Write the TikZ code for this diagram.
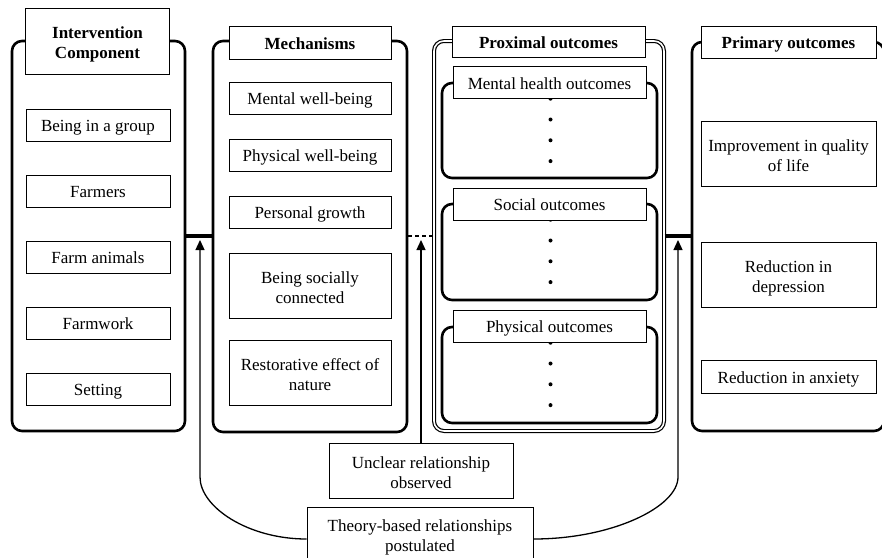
\documentclass[tikz,border=0pt]{standalone}
\usepackage{fontspec}
\setmainfont{Liberation Serif}
\usetikzlibrary{arrows.meta}
% fixed height above the first line of a two-line box
\newcommand\firstline{\rule{0pt}{15.5pt}}
\begin{document}
\begin{tikzpicture}[x=1pt,y=-1pt,
  font=\fontsize{17}{20}\selectfont,
  panel/.style={draw, line width=2.6pt, rounded corners=10pt, inner sep=0pt},
  outerpanel/.style={draw, double, double distance=1.6pt, line width=1.2pt, rounded corners=10pt, inner sep=0pt},
  subpanel/.style={draw, line width=2.6pt, rounded corners=10pt, inner sep=0pt},
  boxbase/.style={draw, fill=white, line width=0.9pt, inner sep=0pt, align=center},
  box/.style={boxbase, text height=15pt, text depth=2pt},
  twoline/.style={boxbase},
  titlebox/.style={box, font=\fontsize{17}{20}\selectfont\bfseries},
  joinbar/.style={line width=3.6pt},
  dashbar/.style={line width=1.4pt, dash pattern=on 4pt off 3pt},
  arr/.style={line width=1.3pt, -{Triangle[length=10pt,width=9pt]}},
  dotmark/.style={fill=black}
]
\fill[white] (0,0) rectangle (882,557);
\useasboundingbox (0,0) rectangle (882,557);

% outer panels
\node[panel, minimum width=173, minimum height=390] (p1) at (98.5,236) {};
\node[panel, minimum width=194, minimum height=391] (p2) at (310,236.5) {};
\node[outerpanel, minimum width=230, minimum height=390] (p3) at (549,236) {};
\node[panel, minimum width=192, minimum height=389] (p4) at (788,236.5) {};

% grouped outcome panels inside the proximal column
\node[subpanel, minimum width=215, minimum height=95] (sp1) at (549.5,130.5) {};
\node[subpanel, minimum width=215, minimum height=96] (sp2) at (549.5,252) {};
\node[subpanel, minimum width=215, minimum height=96] (sp3) at (549.5,375) {};
\foreach \sp in {sp1,sp2,sp3}
  \foreach \d in {0,1,2,3}
    \fill[dotmark] ([xshift=1pt,yshift={-(17+20.8*\d)*1pt}]\sp.north) circle (2pt);

% column headings
\node[twoline, font=\fontsize{17}{20}\selectfont\bfseries, minimum width=144, minimum height=66] (t1) at (97.5,41) {\firstline Intervention\\\smash{Component}};
\node[titlebox, minimum width=162, minimum height=33] (t2) at (310,42.5) {Mechanisms};
\node[titlebox, minimum width=193, minimum height=31] (t3) at (548.5,42) {Proximal outcomes};
\node[titlebox, minimum width=175, minimum height=32] (t4) at (788.5,42) {Primary outcomes};

% outcome group headings
\node[box, minimum width=193, minimum height=32] (s1) at (549.5,82.5) {Mental health outcomes};
\node[box, minimum width=193, minimum height=32] (s2) at (549.5,204) {Social outcomes};
\node[box, minimum width=193, minimum height=32] (s3) at (549.5,326) {Physical outcomes};

% intervention components
\node[box, minimum width=144, minimum height=32] (c1) at (98,125) {Being in a group};
\node[box, minimum width=144, minimum height=32] (c2) at (98,191) {Farmers};
\node[box, minimum width=144, minimum height=32] (c3) at (98,257) {Farm animals};
\node[box, minimum width=144, minimum height=32] (c4) at (98,323) {Farmwork};
\node[box, minimum width=144, minimum height=32] (c5) at (98,389) {Setting};

% mechanisms
\node[box, minimum width=162, minimum height=32] (m1) at (310,98) {Mental well-being};
\node[box, minimum width=162, minimum height=32] (m2) at (310,155) {Physical well-being};
\node[box, minimum width=162, minimum height=32] (m3) at (310,212) {Personal growth};
\node[twoline, minimum width=162, minimum height=65] (m4) at (310,285.5) {\firstline Being socially\\\smash{connected}};
\node[twoline, minimum width=162, minimum height=65] (m5) at (310,372.5) {\firstline Restorative effect of\\\smash{nature}};

% primary outcomes
\node[twoline, minimum width=175, minimum height=65] (o1) at (788.5,153.5) {\firstline Improvement in quality\\\smash{of life}};
\node[twoline, minimum width=175, minimum height=65] (o2) at (788.5,274.5) {\firstline Reduction in\\\smash{depression}};
\node[box, minimum width=175, minimum height=33] (o3) at (788.5,376.5) {Reduction in anxiety};

% relationship legend
\node[twoline, minimum width=184, minimum height=55] (unclear) at (421,470.5) {\firstline Unclear relationship\\\smash{observed}};
\node[twoline, minimum width=226, minimum height=54] (theory) at (420,534) {\firstline Theory-based relationships\\\smash{postulated}};

% links between columns
\coordinate (j1) at (200,236);
\coordinate (j2) at (421,236);
\coordinate (j3) at (678,236);
\draw[joinbar] (p1.east |- j1) -- (p2.west |- j1);
\draw[dashbar] (p2.east |- j2) -- (p3.west |- j2);
\draw[joinbar] (p3.east |- j3) -- (p4.west |- j3);

% arrows from the legend boxes
\draw[arr] (unclear.north) -- ([yshift=-4pt]j2);
\draw[arr] ([yshift=-5pt]theory.west) .. controls (248,539) and (200,507) .. (200,477) -- ([yshift=-4pt]j1);
\draw[arr] ([yshift=-5pt]theory.east) .. controls (612,539) and (678,507) .. (678,477) -- ([yshift=-4pt]j3);
\end{tikzpicture}
\end{document}
